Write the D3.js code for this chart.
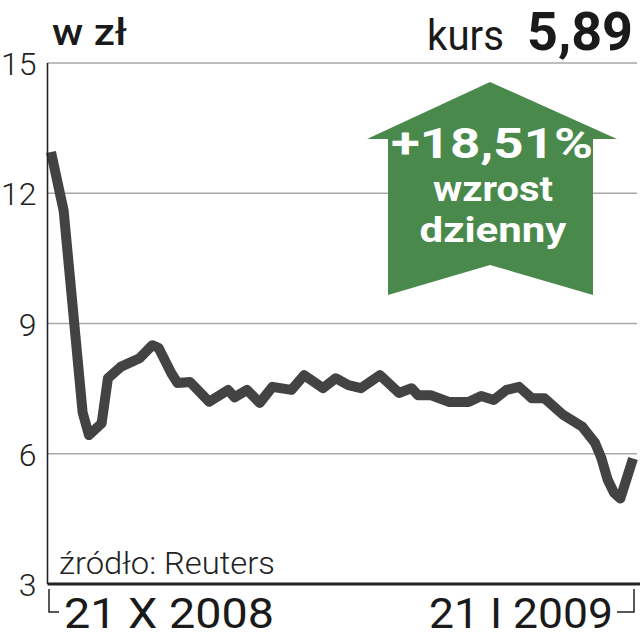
<!DOCTYPE html>
<html>
<head>
<meta charset="utf-8">
<script src="https://cdn.jsdelivr.net/npm/d3@7"></script>
<style>
  html, body { margin: 0; padding: 0; background: #fff; }
  svg { display: block; font-family: Roboto, "Open Sans", sans-serif; }
</style>
</head>
<body>
<svg id="chart"></svg>
<script>
const width = 640;
const height = 640;

// days since 21 X 2008 and closing price (zl)
const days = [0, 2, 5, 6, 8, 9, 11, 14, 16, 17, 19, 20, 22, 25, 28, 29, 31, 33, 35, 38,
              40, 43, 45, 47, 49, 52, 55, 57, 58, 60, 63, 66, 68, 70, 72, 74, 76, 78,
              81, 84, 86, 87, 88, 89, 90, 92];
const prices = [12.95, 11.6, 6.95, 6.43, 6.7, 7.74, 8.0, 8.2, 8.5, 8.44, 7.86, 7.63, 7.65, 7.2, 7.47, 7.3, 7.47, 7.17, 7.54, 7.47,
                7.81, 7.51, 7.74, 7.58, 7.51, 7.81, 7.4, 7.51, 7.35, 7.35, 7.19, 7.19, 7.33, 7.24, 7.47, 7.54, 7.28, 7.28,
                6.89, 6.62, 6.25, 5.9, 5.4, 5.1, 4.97, 5.89];
const yTicks = [3, 6, 9, 12, 15];
const dateLabels = ['21 X 2008', '21 I 2009'];
const unitLabel = 'w zł';
const lastPrice = '5,89';
const change = '+18,51%';
const changeText = ['wzrost', 'dzienny'];
const source = 'źródło: Reuters';

const svg = d3.select('#chart')
    .attr('width', width)
    .attr('height', height);

const x = d3.scaleLinear().domain([0, 92]).range([51, 633]);
const y = d3.scaleLinear().domain([3, 15]).range([584, 63]);

const left = 47.5;
const right = 637;

// grid + y labels
const yAxis = svg.append('g')
    .attr('transform', `translate(${left}, 0)`)
    .call(d3.axisLeft(y).tickValues(yTicks).tickSize(0).tickPadding(11));
yAxis.select('.domain').remove();
yAxis.selectAll('text')
    .attr('font-family', 'Roboto, sans-serif')
    .attr('font-weight', 300)
    .attr('font-size', 32)
    .attr('fill', '#222')
    .attr('dy', '0.36em');

svg.append('g').selectAll('line')
    .data(yTicks.filter(d => d > 3))
    .join('line')
    .attr('x1', left).attr('x2', right)
    .attr('y1', d => y(d)).attr('y2', d => y(d))
    .attr('stroke', '#a8a8a8')
    .attr('stroke-width', 1.6);

// price line
const line = d3.line()
    .x((d, i) => x(days[i]))
    .y(d => y(d));

svg.append('path')
    .datum(prices)
    .attr('fill', 'none')
    .attr('stroke', '#434343')
    .attr('stroke-width', 10)
    .attr('stroke-linejoin', 'round')
    .attr('stroke-linecap', 'butt')
    .attr('d', line);

// axes frame
svg.append('line')
    .attr('x1', left).attr('x2', left)
    .attr('y1', y(15)).attr('y2', y(3))
    .attr('stroke', '#222').attr('stroke-width', 1.6);
svg.append('line')
    .attr('x1', left).attr('x2', 640)
    .attr('y1', y(3)).attr('y2', y(3))
    .attr('stroke', '#222').attr('stroke-width', 3);

// green arrow
const arrow = svg.append('g');
const ax = 490;
arrow.append('path')
    .attr('d', `M${ax},82 L617,139 L593,139 L593,295 L${ax},265 L388,295 L388,139 L367,139 Z`)
    .attr('fill', '#4a894c');

arrow.append('text')
    .attr('x', ax + 2).attr('y', 158)
    .attr('text-anchor', 'middle')
    .attr('font-weight', 700)
    .attr('font-size', 42)
    .attr('fill', '#fff')
    .attr('textLength', 202)
    .attr('lengthAdjust', 'spacingAndGlyphs')
    .text(change);

arrow.selectAll('text.sub')
    .data(changeText)
    .join('text')
    .attr('class', 'sub')
    .attr('x', ax + 3)
    .attr('y', (d, i) => 201 + i * 41)
    .attr('text-anchor', 'middle')
    .attr('font-weight', 700)
    .attr('font-size', 35)
    .attr('fill', '#fff')
    .attr('textLength', (d, i) => i === 0 ? 120 : 147)
    .attr('lengthAdjust', 'spacingAndGlyphs')
    .text(d => d);

// header
svg.append('text')
    .attr('x', 52).attr('y', 45)
    .attr('font-weight', 500)
    .attr('font-size', 37)
    .attr('fill', '#1a1a1a')
    .attr('textLength', 75)
    .attr('lengthAdjust', 'spacingAndGlyphs')
    .text(unitLabel);

svg.append('text')
    .attr('x', 504).attr('y', 50)
    .attr('text-anchor', 'end')
    .attr('font-size', 43)
    .attr('fill', '#1a1a1a')
    .attr('textLength', 77)
    .attr('lengthAdjust', 'spacingAndGlyphs')
    .text('kurs');
svg.append('text')
    .attr('x', 633).attr('y', 50)
    .attr('text-anchor', 'end')
    .attr('font-size', 53)
    .attr('font-weight', 700)
    .attr('fill', '#1a1a1a')
    .attr('textLength', 106)
    .attr('lengthAdjust', 'spacingAndGlyphs')
    .text(lastPrice);

// source
svg.append('text')
    .attr('x', 59).attr('y', 574)
    .attr('font-weight', 300)
    .attr('font-size', 31)
    .attr('fill', '#222')
    .attr('textLength', 216)
    .attr('lengthAdjust', 'spacingAndGlyphs')
    .text(source);

// date labels with brackets
svg.append('path')
    .attr('d', `M49,589 V612 H59`)
    .attr('fill', 'none').attr('stroke', '#222').attr('stroke-width', 1.5);
svg.append('path')
    .attr('d', `M617,612 H634 V589`)
    .attr('fill', 'none').attr('stroke', '#222').attr('stroke-width', 1.5);

svg.selectAll('text.date')
    .data(dateLabels)
    .join('text')
    .attr('class', 'date')
    .attr('x', (d, i) => i === 0 ? 64 : 613)
    .attr('y', 628)
    .attr('text-anchor', (d, i) => i === 0 ? 'start' : 'end')
    .attr('font-size', 43)
    .attr('font-weight', 400)
    .attr('fill', '#1a1a1a')
    .attr('textLength', (d, i) => i === 0 ? 210 : 184)
    .attr('lengthAdjust', 'spacingAndGlyphs')
    .text(d => d);
</script>
</body>
</html>
